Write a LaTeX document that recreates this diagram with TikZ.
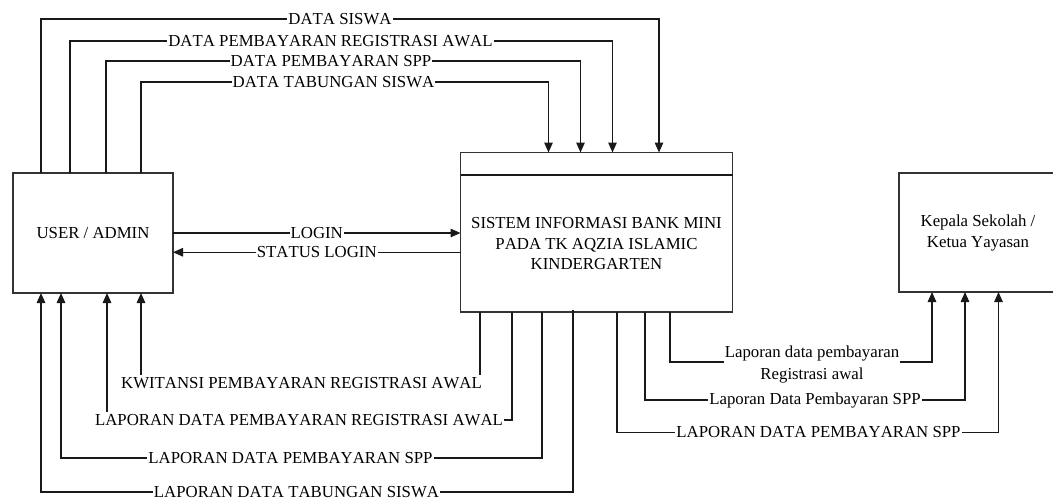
\documentclass[tikz,border=0pt]{standalone}
\usepackage{fontspec}
\setmainfont{Liberation Serif}[Kerning=Off]
\usetikzlibrary{arrows.meta}
\begin{document}
\begin{tikzpicture}[x=1pt,y=-1pt,
  box/.style={draw=black!80, line width=1.4pt, fill=white, inner sep=0pt, outer sep=0pt},
  flow/.style={draw=black!90, line width=1.4pt},
  arr/.style={flow, -{Triangle[length=10pt,width=8.5pt]}},
  lbl/.style={fill=white, inner xsep=1pt, inner ysep=2pt, align=center, font=\fontsize{16.8}{22}\selectfont},
  txt/.style={align=center, font=\fontsize{16.8}{20.5}\selectfont}]
\useasboundingbox (0,0) rectangle (1053,499);
\clip (0,0) rectangle (1053,499);

% entities and process
\node[box, txt, minimum width=160pt, minimum height=120pt] (user) at (93,233) {USER / ADMIN};
\node[box, minimum width=272pt, minimum height=159.5pt] (sys) at (596.5,232.25) {};
\draw[flow] ([yshift=-22.5pt]sys.north west) -- ([yshift=-22.5pt]sys.north east);
\node[txt] (systext) at (596.5,244) {SISTEM INFORMASI BANK MINI\\PADA TK AQZIA ISLAMIC\\KINDERGARTEN};
\node[box, txt, font=\fontsize{16.8}{21}\selectfont, minimum width=158pt, minimum height=119pt] (kep) at (978,232.5) {Kepala Sekolah /\\Ketua Yayasan};

% top flows: user -> system
\draw[arr] ([xshift=28]user.north west) -- ++(0,-154) -| ([xshift=198.5]sys.north west);
\draw[arr] ([xshift=57]user.north west) -- ++(0,-132) -| ([xshift=152]sys.north west);
\draw[arr] ([xshift=93]user.north west) -- ++(0,-112) -| ([xshift=120]sys.north west);
\draw[arr] ([xshift=128]user.north west) -- ++(0,-91) -| ([xshift=88]sys.north west);
\node[lbl] (l1) at (340,19) {DATA SISWA};
\node[lbl] (l2) at (330.5,41) {DATA PEMBAYARAN REGISTRASI AWAL};
\node[lbl] (l3) at (331,61) {DATA PEMBAYARAN SPP};
\node[lbl] (l4) at (333.5,82) {DATA TABUNGAN SISWA};

% login
\draw[arr] (user.east) -- (user.east -| sys.west) node[lbl, midway] (l5) {LOGIN};
\draw[arr] ([yshift=-20]sys.west) -- ([yshift=-19.25]user.east) node[lbl, midway] (l6) {STATUS LOGIN};

% bottom flows: system -> user
\draw[arr] ([xshift=19.5]sys.south west) -- ++(0,71) -| ([xshift=128]user.south west);
\draw[arr] ([xshift=51.5]sys.south west) -- ++(0,108) -| ([xshift=94]user.south west);
\draw[arr] ([xshift=81.5]sys.south west) -- ++(0,146) -| ([xshift=48]user.south west);
\draw[arr] ([xshift=112.5,yshift=2]sys.south west) -- ++(0,182) -| ([xshift=28]user.south west);
\node[lbl] (l7) at (301.5,383) {KWITANSI PEMBAYARAN REGISTRASI AWAL};
\node[lbl] (l8) at (299,420) {LAPORAN DATA PEMBAYARAN REGISTRASI AWAL};
\node[lbl] (l9) at (290.5,458) {LAPORAN DATA PEMBAYARAN SPP};
\node[lbl] (l10) at (296.5,492) {LAPORAN DATA TABUNGAN SISWA};

% right flows: system -> kepala
\draw[arr] ([xshift=209.5]sys.south west) -- ++(0,50) -| ([xshift=33]kep.south west);
\draw[arr] ([xshift=184.5]sys.south west) -- ++(0,88) -| ([xshift=66]kep.south west);
\draw[arr] ([xshift=156.5]sys.south west) -- ++(0,120.5) -| ([xshift=99.5]kep.south west);
\node[lbl] (l11) at (812,364) {Laporan data pembayaran\\Registrasi awal};
\node[lbl] (l12) at (815,400) {Laporan Data Pembayaran SPP};
\node[lbl] (l13) at (818.5,432.5) {LAPORAN DATA PEMBAYARAN SPP};
\end{tikzpicture}
\end{document}
